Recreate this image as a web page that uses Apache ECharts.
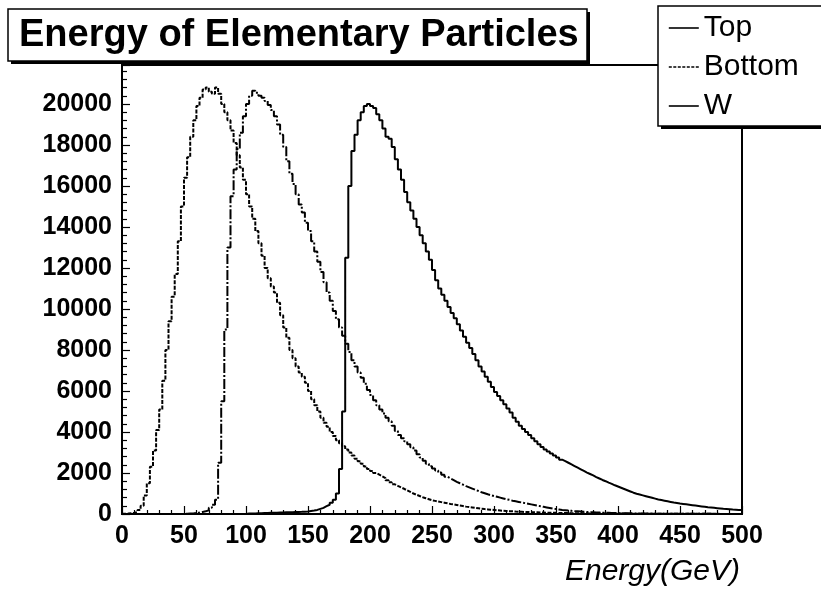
<!DOCTYPE html>
<html>
<head>
<meta charset="utf-8">
<script src="https://cdn.jsdelivr.net/npm/echarts@6/dist/echarts.min.js"></script>
<style>
html,body{margin:0;padding:0;background:#fff;}
#chart{width:821px;height:589px;}
</style>
</head>
<body>
<div id="chart"></div>
<script>
// Histogram: 200 bins of 2.5 GeV from 0 to 500 GeV
const binWidth = 2.5;
const xTicks = [0, 50, 100, 150, 200, 250, 300, 350, 400, 450, 500];
const seriesNames = ['Top', 'Bottom', 'W'];

const topCounts = [
  0,0,0,0,0,0,0,0,0,0,0,0,0,0,0,0,0,0,0,0,
  0,0,0,0,0,0,0,0,0,0,0,0,0,0,0,0,0,0,0,0,
  20,25,30,35,40,45,50,55,60,65,70,75,80,85,90,95,100,105,115,125,
  150,170,200,250,300,380,450,550,700,1000,2200,5000,12500,16000,17700,18500,19200,19600,19900,20000,
  19900,19800,19500,19200,18800,18400,18300,17900,17300,16800,16300,15700,15200,14800,14400,14000,13600,13200,12800,12400,
  11900,11400,11000,10700,10400,10100,9800,9550,9250,8950,8650,8350,8100,7800,7500,7200,6950,6700,6450,6200,
  5950,5750,5550,5350,5150,4950,4700,4500,4300,4150,4000,3850,3700,3550,3400,3270,3150,3050,2950,2850,
  2750,2650,2580,2500,2420,2340,2260,2180,2100,2020,1950,1880,1800,1730,1660,1600,1530,1470,1400,1340,
  1280,1220,1160,1100,1040,990,950,910,870,830,790,750,710,680,650,620,590,560,540,510,
  490,470,450,430,410,390,370,350,330,315,300,285,270,255,245,235,220,210,200,190
];

const bottomCounts = [
  10,20,40,60,100,200,400,900,1500,2300,3100,4100,5100,6500,8000,9400,10600,11700,13300,15000,
  16400,17400,18400,19200,19900,20300,20700,20800,20600,20500,20800,20500,20000,19600,19200,18700,18100,17500,16900,16300,
  15600,15000,14400,13800,13200,12600,12000,11500,11100,10800,10300,9700,9100,8600,8000,7600,7200,6900,6700,6400,
  6000,5600,5300,5000,4700,4450,4250,4000,3800,3600,3450,3300,3150,3000,2850,2700,2570,2450,2320,2200,
  2100,2000,1920,1840,1750,1650,1550,1450,1370,1300,1230,1150,1080,1000,940,880,820,770,720,670,
  640,610,580,550,520,490,470,440,410,390,360,340,320,300,280,260,240,225,210,195,
  180,170,160,150,140,130,120,115,110,100,95,90,85,80,75,70,65,60,58,55,
  52,50,47,45,42,40,38,36,34,32,30,29,28,27,26,25,24,23,22,21,
  20,19,18,17,17,16,16,15,15,14,14,13,13,12,12,11,11,11,10,10,
  10,9,9,9,8,8,8,8,7,7,7,7,6,6,6,6,6,5,5,5
];

const wCounts = [
  0,0,0,0,0,0,0,0,0,0,0,0,0,0,0,0,0,0,0,0,
  10,20,30,50,70,100,130,180,300,450,700,2500,5500,9000,13000,15500,16800,17800,18600,19400,
  20000,20400,20650,20550,20400,20300,20150,19950,19700,19400,19000,18500,17900,17200,16600,16100,15600,15100,14700,14200,
  13800,13300,12800,12300,11800,11300,10800,10400,9900,9500,9100,8700,8300,7900,7500,7200,6900,6650,6350,6050,
  5800,5550,5300,5100,4900,4700,4520,4300,4050,3850,3700,3550,3400,3250,3100,2920,2750,2600,2450,2330,
  2220,2120,2020,1920,1820,1730,1650,1570,1500,1430,1360,1300,1240,1180,1120,1060,1010,960,920,880,
  840,800,760,720,690,650,620,590,560,530,500,470,440,410,380,350,320,290,260,240,
  220,200,185,170,155,140,130,120,110,100,92,85,78,72,66,60,55,50,46,42,
  40,37,34,32,30,28,26,24,22,20,19,18,17,16,15,14,13,12,12,11,
  10,10,9,9,8,8,8,7,7,7,6,6,6,5,5,5,5,4,4,4
];

function toSteps(counts) {
  const pts = counts.map((c, i) => [i * binWidth, c]);
  pts.push([counts.length * binWidth, counts[counts.length - 1]]);
  return pts;
}

const FONT = '"Liberation Sans", Arial, Helvetica, sans-serif';
const chart = echarts.init(document.getElementById('chart'), null, {renderer: 'canvas'});

const option = {
  animation: false,
  backgroundColor: '#fff',
  title: {
    text: 'Energy of Elementary Particles',
    left: 19, top: 17, padding: 0, z: 60,
    textStyle: {fontFamily: FONT, fontSize: 38, fontWeight: 'bold', color: '#000', lineHeight: 38}
  },
  legend: {
    orient: 'vertical', left: 663, top: 8, z: 60,
    itemWidth: 30, itemHeight: 14, itemGap: 9,
    itemStyle: {opacity: 0},
    textStyle: {fontFamily: FONT, fontSize: 30, color: '#000', lineHeight: 30},
    data: [
      {name: 'Top', lineStyle: {type: 'solid', width: 1.6}},
      {name: 'Bottom', lineStyle: {type: [3, 1.5], width: 1.6}},
      {name: 'W', lineStyle: {type: 'solid', width: 1.6}}
    ]
  },
  graphic: [
    {type: 'rect', z: 50, shape: {x: 11, y: 12, width: 579, height: 52}, style: {fill: '#000'}},
    {type: 'rect', z: 51, shape: {x: 8, y: 9, width: 579, height: 52}, style: {fill: '#fff', stroke: '#000', lineWidth: 1.5}},
    {type: 'rect', z: 50, shape: {x: 661, y: 9, width: 200, height: 120}, style: {fill: '#000'}},
    {type: 'rect', z: 51, shape: {x: 658, y: 6, width: 200, height: 120}, style: {fill: '#fff', stroke: '#000', lineWidth: 1.5}}
  ],
  grid: {
    left: 122, right: 79, top: 65, bottom: 75,
    containLabel: false, outerBoundsMode: 'none',
    show: true, borderColor: '#000', borderWidth: 2, backgroundColor: 'transparent'
  },
  xAxis: {
    type: 'value', min: xTicks[0], max: xTicks[xTicks.length - 1], interval: 50,
    name: 'Energy(GeV)', nameLocation: 'end', nameGap: -2,
    nameTextStyle: {fontFamily: FONT, fontSize: 30, fontStyle: 'italic', color: '#000',
      align: 'right', verticalAlign: 'top', padding: [43, 0, 0, 0]},
    axisLine: {show: true, onZero: false, lineStyle: {color: '#000', width: 2}},
    axisTick: {show: true, inside: true, length: 8, lineStyle: {color: '#000', width: 1.2}},
    minorTick: {show: true, splitNumber: 5, length: 4, lineStyle: {color: '#000', width: 1.2}},
    splitLine: {show: false},
    axisLabel: {fontFamily: FONT, fontSize: 25, fontWeight: 'bold', color: '#000', margin: 10,
      formatter: v => String(v)}
  },
  yAxis: {
    type: 'value', min: 0, max: 21900, interval: 2000,
    axisLine: {show: true, onZero: false, lineStyle: {color: '#000', width: 2}},
    axisTick: {show: true, inside: true, length: 8, lineStyle: {color: '#000', width: 1.2}},
    minorTick: {show: true, splitNumber: 5, length: 5, lineStyle: {color: '#000', width: 1.2}},
    splitLine: {show: false},
    axisLabel: {fontFamily: FONT, fontSize: 25, fontWeight: 'bold', color: '#000', margin: 10, showMaxLabel: false,
      formatter: v => String(v)}
  },
  series: [
    {name: seriesNames[0], type: 'line', step: 'end', symbol: 'none', data: toSteps(topCounts),
      lineStyle: {color: '#000', width: 2, type: 'solid'}, itemStyle: {color: '#000'}},
    {name: seriesNames[1], type: 'line', step: 'end', symbol: 'none', data: toSteps(bottomCounts),
      lineStyle: {color: '#000', width: 2, type: [4, 1.5]}, itemStyle: {color: '#000'}},
    {name: seriesNames[2], type: 'line', step: 'end', symbol: 'none', data: toSteps(wCounts),
      lineStyle: {color: '#000', width: 2, type: [10, 2, 2, 2]}, itemStyle: {color: '#000'}}
  ]
};
chart.setOption(option);
</script>
</body>
</html>
